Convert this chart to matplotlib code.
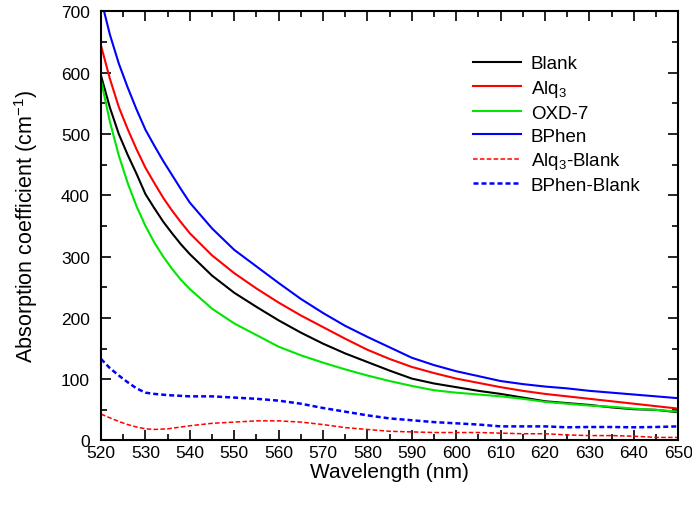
import numpy as np
import matplotlib
matplotlib.use("Agg")
import matplotlib.pyplot as plt
from matplotlib.ticker import MultipleLocator

plt.rcParams["font.family"] = ["Liberation Sans", "DejaVu Sans"]
plt.rcParams["mathtext.fontset"] = "custom"
plt.rcParams["mathtext.rm"] = "Liberation Sans"
plt.rcParams["mathtext.it"] = "Liberation Sans:italic"

# absorption spectra of the films (wavelength in nm, coefficient in cm^-1)
wl_solid = [520, 522, 524, 526, 528, 530, 532, 534, 536, 538, 540, 545, 550, 555,
            560, 565, 570, 575, 580, 585, 590, 595, 600, 605, 610, 615, 620, 625,
            630, 635, 640, 645, 650]
blank = [595, 543, 500, 466, 435, 402, 379, 357, 338, 320, 304, 269, 241, 218,
         196, 176, 158, 142, 128, 114, 101, 93, 87, 81, 76, 70, 64, 61,
         58, 54, 51, 50, 46]
alq3 = [644, 590, 544, 508, 475, 445, 420, 396, 375, 356, 338, 302, 273, 248,
        225, 204, 185, 166, 148, 133, 120, 110, 101, 94, 87, 81, 76, 72,
        68, 64, 60, 56, 52]
oxd7 = [587, 520, 465, 420, 382, 350, 323, 300, 280, 262, 247, 215, 191, 172,
        153, 139, 127, 116, 106, 97, 89, 82, 78, 75, 72, 68, 63, 60,
        57, 55, 52, 50, 47]
bphen = [720, 662, 615, 576, 540, 507, 481, 456, 433, 410, 388, 346, 311, 284,
         257, 231, 208, 187, 169, 152, 135, 123, 113, 105, 97, 92, 88, 85,
         81, 78, 75, 72, 69]

# difference spectra
wl_diff = [520, 522, 524, 526, 528, 530, 532, 535, 540, 545, 550, 555, 560, 565,
           570, 575, 580, 585, 590, 595, 600, 605, 610, 615, 620, 625, 630, 635,
           640, 645, 650]
alq3_blank = [43, 37, 31, 26, 22, 19, 18, 19, 24, 28, 30, 32, 32, 30,
              26, 21, 18, 15, 14, 13, 13, 13, 12, 11, 11, 9, 8, 8,
              7, 5, 5]
bphen_blank = [133, 118, 106, 95, 85, 78, 76, 74, 72, 72, 70, 68, 65, 60,
               53, 47, 41, 36, 33, 30, 28, 26, 23, 23, 23, 21.5, 22, 22,
               21.5, 22, 23]

fig = plt.figure(figsize=(6.92, 5.06), dpi=100)
ax = fig.add_axes([0.146, 0.1275, 0.834, 0.848])

ax.plot(wl_solid, blank, color="black", lw=1.5, label="Blank")
ax.plot(wl_solid, alq3, color="#ff0000", lw=1.5, label="Alq$_3$")
ax.plot(wl_solid, oxd7, color="#00e600", lw=1.5, label="OXD-7")
ax.plot(wl_solid, bphen, color="#0000ff", lw=1.5, label="BPhen")
ax.plot(wl_diff, alq3_blank, color="#ff0000", lw=1.1, dashes=(3, 1.5),
        label="Alq$_3$-Blank")
ax.plot(wl_diff, bphen_blank, color="#0000ff", lw=1.8, dashes=(2, 1.2),
        label="BPhen-Blank")

ax.set_xlim(520, 650)
ax.set_ylim(0, 700)
ax.xaxis.set_major_locator(MultipleLocator(10))
ax.xaxis.set_minor_locator(MultipleLocator(5))
ax.yaxis.set_major_locator(MultipleLocator(100))
ax.yaxis.set_minor_locator(MultipleLocator(50))
ax.tick_params(which="both", direction="in", top=True, right=True,
               labelsize=12.5, width=1.2)
ax.tick_params(which="major", length=7)
ax.tick_params(which="minor", length=4)
ax.tick_params(axis="y", pad=8)
ax.tick_params(axis="x", pad=3.5)
for sp in ax.spines.values():
    sp.set_linewidth(1.5)

ax.set_xlabel("Wavelength (nm)", fontsize=15, labelpad=1)
ax.set_ylabel("Absorption coefficient (cm$^{-1}$)", fontsize=15.5, labelpad=15)

ax.legend(loc="upper right", bbox_to_anchor=(0.964, 0.937), frameon=False,
          fontsize=13.5, handlelength=2.6, handletextpad=0.5,
          labelspacing=0.3)

fig.savefig("out.png", dpi=100)
